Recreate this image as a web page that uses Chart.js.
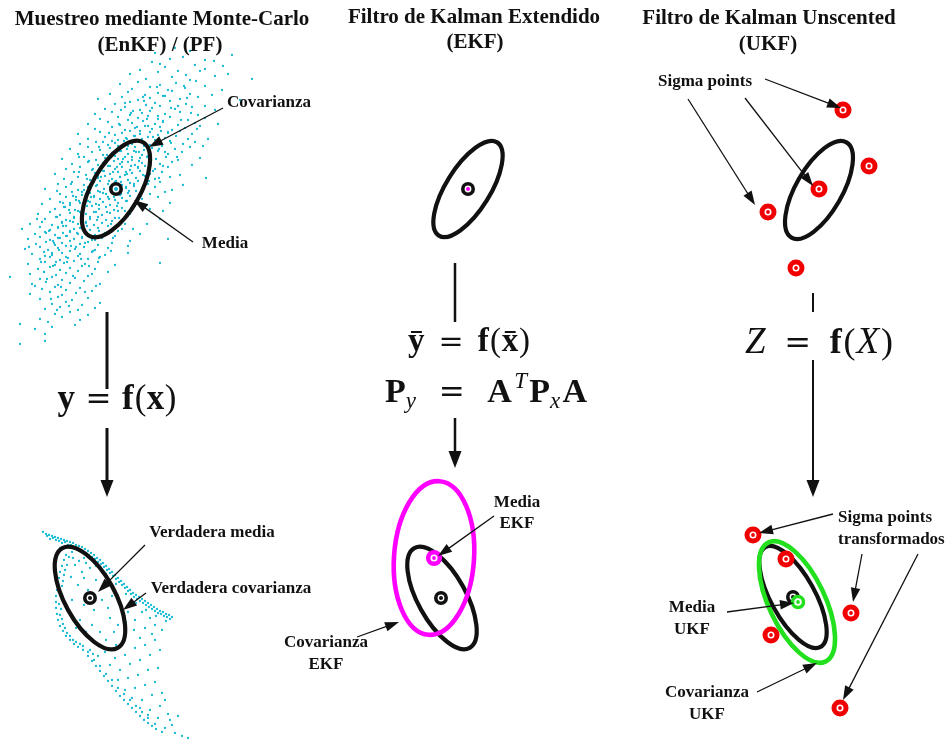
<!DOCTYPE html>
<html><head><meta charset="utf-8">
<script src="https://cdn.jsdelivr.net/npm/chart.js@4.4.0/dist/chart.umd.min.js"></script>
<style>html,body{margin:0;padding:0;background:#fff;overflow:hidden}canvas{display:block}</style>
</head><body>
<canvas id="c" width="951" height="740"></canvas>
<script>
// ---------------- DATA ----------------
// Monte-Carlo samples before the transform (top-left cloud), [x, y]
const topCloud = [
[155,53],[190,51],[232,55],[175,48],
[170,59],[183,57],[214,61],[160,64],
[152,62],[195,65],[223,66],[205,60],
[140,70],[165,67],[178,71],[205,69],
[130,74],[158,72],[186,75],[200,71],[228,74],
[146,79],[172,77],[190,80],[215,76],[252,79],
[120,84],[138,82],[160,85],[176,83],[196,81],[184,86],
[132,89],[150,87],[168,90],[185,88],[205,86],[222,90],
[110,94],[128,92],[145,95],[158,93],[172,91],[190,94],[212,95],[165,96],
[98,99],[122,97],[138,100],[150,98],[163,96],[180,99],[198,97],[240,100],[144,101],
[115,104],[130,102],[146,105],[155,103],[170,101],[186,104],[205,106],[178,106],
[105,109],[125,107],[140,110],[152,108],[160,106],[175,109],[192,107],[215,110],[133,111],
[95,114],[112,112],[130,115],[142,113],[150,111],[165,114],[180,112],[198,115],[158,116],
[100,119],[118,117],[128,120],[138,118],[148,116],[158,119],[170,117],[188,120],[205,118],[163,121],
[88,124],[108,122],[120,125],[132,123],[143,121],[155,124],[163,122],[178,125],[195,123],[218,124],[148,126],
[95,129],[112,127],[125,130],[135,128],[145,126],[152,129],[160,127],[172,130],[185,128],[200,126],[140,131],[168,132],
[78,134],[100,132],[115,135],[122,133],[130,131],[140,134],[150,132],[158,135],[168,133],[180,131],[192,134],[135,136],
[88,139],[105,137],[118,140],[126,138],[134,136],[142,139],[148,137],[155,140],[165,138],[176,136],[188,139],[208,139],[112,141],
[80,144],[96,142],[108,145],[115,143],[124,141],[132,144],[140,142],[150,145],[160,143],[170,141],[183,144],[195,142],[128,146],
[70,149],[88,147],[100,150],[110,148],[118,146],[127,149],[135,147],[144,150],[152,148],[162,146],[175,149],[190,147],[121,151],[139,152],
[78,154],[92,152],[103,155],[112,153],[120,151],[128,154],[136,152],[142,155],[150,153],[158,151],[168,154],[182,152],[115,156],[132,157],
[62,159],[84,157],[96,160],[105,158],[112,156],[118,159],[125,157],[132,160],[140,158],[148,156],[156,159],[166,157],[178,160],[200,158],[122,162],
[72,164],[88,162],[98,165],[106,163],[114,161],[120,164],[128,162],[135,165],[142,163],[150,161],[160,164],[172,162],[192,165],[110,166],[138,167],
[66,169],[80,167],[92,170],[100,168],[108,166],[115,169],[122,167],[130,170],[138,168],[145,166],[155,169],[168,167],[104,171],[126,172],
[55,174],[74,172],[86,175],[95,173],[103,171],[110,174],[118,172],[125,175],[132,173],[140,171],[150,174],[162,172],[180,175],[98,176],[120,177],
[64,179],[78,177],[90,180],[98,178],[105,176],[112,179],[120,177],[128,180],[136,178],[145,176],[155,179],[170,177],[206,178],[94,182],[116,181],
[58,184],[72,182],[84,185],[92,183],[100,181],[108,184],[115,182],[122,185],[130,183],[138,181],[148,184],[160,182],[88,187],[126,187],
[45,189],[66,187],[78,190],[88,188],[96,186],[104,189],[110,187],[118,190],[126,188],[134,186],[142,189],[155,187],[172,190],[82,192],[100,192],
[60,194],[72,192],[82,195],[90,193],[98,191],[106,194],[112,192],[120,195],[128,193],[136,191],[150,194],[165,192],[76,197],[94,197],[114,197],
[50,199],[66,197],[76,200],[86,198],[94,196],[100,199],[108,197],[115,200],[122,198],[130,196],[142,199],[158,197],[90,202],[70,203],
[42,204],[60,202],[70,205],[80,203],[88,201],[96,204],[103,202],[110,205],[118,203],[126,201],[138,204],[170,203],[84,207],[64,207],
[55,209],[65,207],[75,210],[84,208],[92,206],[99,209],[106,207],[114,210],[122,208],[135,206],[150,209],[80,212],[96,212],
[38,214],[50,212],[60,215],[70,213],[78,211],[86,214],[94,212],[102,215],[110,213],[118,211],[130,214],[74,217],[90,217],
[45,219],[56,217],[66,220],[74,218],[82,216],[90,219],[98,217],[106,220],[115,218],[128,216],[160,219],[62,222],[86,223],
[30,224],[42,222],[52,225],[62,223],[70,221],[78,224],[86,222],[94,225],[102,223],[112,221],[125,224],[58,227],[80,228],
[22,229],[40,227],[50,230],[58,228],[66,226],[74,229],[82,227],[90,230],[98,228],[108,226],[122,229],[70,232],[46,233],
[35,234],[45,232],[55,235],[63,233],[70,231],[78,234],[86,232],[95,235],[105,233],[118,231],[140,234],[60,238],[82,238],
[28,239],[40,237],[50,240],[58,238],[66,236],[74,239],[82,237],[92,240],[102,238],[115,236],[168,239],[54,243],
[36,244],[46,242],[55,245],[62,243],[70,241],[80,244],[88,242],[98,245],[112,243],[130,241],[76,247],
[25,249],[40,247],[48,250],[58,248],[66,246],[75,249],[84,247],[95,250],[108,248],[52,253],
[32,254],[44,252],[52,255],[62,253],[70,251],[80,254],[92,252],[105,255],[128,253],[66,257],
[40,259],[50,257],[60,260],[68,258],[78,256],[88,259],[100,257],[56,262],
[28,264],[45,262],[55,265],[64,263],[74,261],[85,264],[98,262],[115,265],[160,263],
[38,269],[50,267],[60,270],[70,268],[82,266],[95,269],[44,272],
[30,274],[44,272],[56,275],[66,273],[78,271],[92,274],[108,272],
[10,277],[40,279],[52,277],[62,280],[75,278],[88,276],
[32,284],[46,282],[58,285],[70,283],[84,281],[100,284],
[42,289],[55,287],[66,290],[80,288],[96,286],
[30,294],[50,292],[62,295],[76,293],[92,291],
[40,299],[58,297],[72,300],[88,298],
[52,304],[66,302],[82,305],[100,303],
[45,309],[60,307],[78,310],[95,308],
[55,314],[70,312],[88,315],
[40,319],[62,317],[80,320],
[20,324],[48,322],[75,325],
[35,329],[52,327],[45,334],[20,344],[45,341],
[131,113],[147,119],[119,124],[161,131],[137,127],[109,133],[153,137],[127,139],[171,143],[144,146],[99,147],[117,149],[134,151],[159,149],
[107,155],[147,157],[123,159],[89,161],[139,161],[163,166],[103,163],[117,167],[131,166],[153,171],[93,169],[79,172],[113,172],[143,175],
[127,174],[101,177],[87,179],[121,182],[134,184],[109,181],[71,184],[149,181],[97,185],[113,186],[84,190],[129,191],[103,193],[121,194],
[73,196],[141,196],[91,197],[109,199],[79,201],[127,201],[63,203],[99,205],[117,206],[87,206],[69,210],[107,212],[83,214],[125,211],
[57,217],[97,220],[73,222],[111,224],[63,226],[87,226],[49,231],[77,233],[99,231],[67,236],[113,238],[53,241],[85,243],[71,246],
[93,251],[59,250],[45,256],[81,259],[67,262],[53,266],[89,266],[73,276],[47,279],[61,287],[85,292],[51,299],[69,306],[57,310],
[181,120],[197,129],[171,108],[143,97],[157,87],[187,98],[121,110],[165,152],[177,157],[159,178],[137,203],[119,218],[95,240],[41,262],
[35,286],[29,247],[37,219],[57,191],[79,157],[103,142],[125,103],[191,113],[203,146],[99,258],[111,251],[128,246],[147,224],[163,211],
[183,185],[147,205],[133,229]
];

// Transformed Monte-Carlo samples (bottom-left cloud), [x, y]
const bottomCloud = [
[43,532],[46,534],[49,535],[52,536],[55,537],[58,538],[61,539],[64,540],[67,541],[70,542],[73,543],[76,545],[79,546],[82,547],[85,549],[88,551],[91,553],[94,555],[97,558],[100,560],[103,563],[106,566],[109,569],[112,572],[115,575],[118,578],[121,581],[124,584],[127,587],[130,590],[133,593],[136,595],[139,597],[142,599],[145,601],[148,603],[151,605],[154,607],[157,609],[160,611],[163,612],[166,614],[169,615],[172,617],
[50,539],[56,540],[62,543],[68,545],[74,547],[80,550],[86,553],[92,557],[98,562],[104,567],[110,573],[116,579],[122,585],[128,591],[134,597],[140,601],[146,605],[152,609],[158,613],[164,616],[170,619],
[47,536],[53,538],[59,541],[65,542],[71,545],[77,548],[83,551],[89,555],[95,559],[101,564],[107,570],[113,576],[119,582],[125,588],[131,594],[137,599],[143,603],[149,607],[155,611],[161,614],[167,617],
[60,548],[72,552],[84,558],[96,566],[106,574],[116,584],[126,594],[136,603],[146,610],[156,616],[166,621],
[66,555],[64,560],[62,566],[60,572],[59,578],[58,584],[57,590],[56,596],[56,602],[56,608],[57,614],[58,620],[60,626],[63,631],[66,636],[70,640],[74,644],[78,647],[83,650],[88,652],[93,654],[98,656],
[69,557],[67,565],[64,575],[62,586],[61,597],[61,609],[62,619],[65,628],[70,636],[76,642],[83,646],[90,650],
[65,570],[63,581],[59,592],[59,604],[60,615],[63,624],[67,633],[73,640],[80,644],
[75,565],[82,572],[90,568],[78,585],[88,590],[96,580],[104,588],[72,600],[84,605],[94,610],[102,600],[112,596],[120,605],[80,620],[92,625],[100,632],[110,618],[118,625],[128,612],[135,620],[142,612],[150,618],[106,640],[116,645],[124,635],[134,630],[145,628],[155,625],[162,630],[70,612],[86,632],[98,645],
[73,558],[79,561],[86,563],[71,577],[84,578],[92,596],[108,608],[76,628],[114,632],[126,622],[140,638],[152,634],
[88,656],[92,661],[96,666],[100,671],[104,676],[108,681],[112,686],[116,691],[120,696],[124,700],[128,704],[132,708],[136,712],[140,716],[144,720],[148,723],[152,726],[156,729],
[94,660],[100,666],[106,674],[112,680],[118,688],[124,694],[130,700],[136,706],[142,712],[148,718],
[105,652],[115,658],[125,655],[135,648],[145,645],[155,640],[110,665],[120,670],[130,664],[140,660],[150,655],[160,650],[118,680],[128,678],[138,675],[148,670],[158,668],[125,690],[135,688],[145,685],[155,682],[132,698],[142,700],[152,695],[162,693],[140,708],[150,710],[160,706],[165,700],[148,715],[158,718],[168,714],[155,724],[165,728],[172,725],[162,732],[175,733],[182,736],[188,738],[170,720],[178,716]
];

// Sigma points before / after transform
const sigmaX = [843, 869, 819, 768, 796];
const sigmaY = [110, 166, 189, 212, 268];
const sigmaTX = [753, 786, 851, 771, 840];
const sigmaTY = [535, 559, 613, 635, 708];

// Mean markers (black rings)
const meanX = [116, 468, 90, 441, 793];
const meanY = [189, 189, 598, 598, 597];
const ekfMeanX = [434], ekfMeanY = [558];
const ukfMeanX = [798], ukfMeanY = [602];

// Covariance ellipses: centre, semi-axes, tilt (deg)
const ellName = ['mcIn','ekfIn','ukfIn','mcTrue','ekfTrue','ukfTrue','ekfOut','ukfOut'];
const ellCX = [116, 468, 819, 90, 442, 793, 434, 797];
const ellCY = [189, 189, 190, 598, 598, 597, 558, 602];
const ellA  = [54, 55, 55, 57, 57, 57, 77, 66];
const ellB  = [24, 22, 23, 25, 24, 22, 40, 28];
const ellTilt = [60, 58, 60, -61, -61, -61, 86, -64.5];

// Text
const titles = ['Muestreo mediante Monte-Carlo','(EnKF) / (PF)','Filtro de Kalman Extendido','(EKF)','Filtro de Kalman Unscented','(UKF)'];
const titleX = [162, 160, 474, 475, 769, 768];
const titleY = [25, 51, 23, 48, 24, 50];

const labels = ['Covarianza','Media','Verdadera media','Verdadera covarianza','Media','EKF','Covarianza','EKF','Sigma points','Sigma points','transformados','Media','UKF','Covarianza','UKF'];
const labelX = [269, 225, 212, 231, 517, 517, 326, 326, 705, 838, 838, 692, 692, 707, 707];
const labelY = [103, 244, 533, 589, 503, 524, 643, 665, 82, 518, 540, 608, 630, 693, 715];
const labelAlign = ['c','c','c','c','c','c','c','c','c','l','l','c','c','c','c'];

// Annotation arrows: from label -> to target
const arrowX1 = [223, 193, 145, 146, 494, 357, 765, 745, 688, 833, 862, 918, 727, 757];
const arrowY1 = [108, 242, 545, 593, 516, 637, 79, 98, 99, 514, 554, 554, 612, 692];
const arrowX2 = [149, 134, 98, 123, 438, 399, 841, 813, 755, 759, 853, 843, 794, 817];
const arrowY2 = [147, 200, 592, 610, 556, 622, 108, 186, 205, 533, 602, 700, 603, 663];

// Transform connectors (vertical strokes + big arrow)
const connX  = [107, 455, 813];
const connTopY1 = [312, 263, 293], connTopY2 = [389, 322, 312];
const connBotY1 = [428, 418, 360], connTipY = [497, 468, 497];
const connW = [3, 2.5, 2];

// ---------------- CHART ----------------
const CYAN = '#15bad3', RED = '#f00000', MAG = '#ff00ff', GREEN = '#22e01e', INK = '#111';
const toPts = (xs, ys) => xs.map((x, i) => ({x, y: ys[i]}));
const ellColor = {mcIn: INK, ekfIn: INK, ukfIn: INK, mcTrue: INK, ekfTrue: INK, ukfTrue: INK, ekfOut: MAG, ukfOut: GREEN};
const ellWidth = {mcIn: 4.2, ekfIn: 4.2, ukfIn: 4.2, mcTrue: 4.2, ekfTrue: 4.2, ukfTrue: 4.2, ekfOut: 4.6, ukfOut: 4.6};

function drawEllipses(chart) {
  const ctx = chart.ctx, sx = chart.scales.x, sy = chart.scales.y;
  const kx = sx.getPixelForValue(1) - sx.getPixelForValue(0);
  const ky = sy.getPixelForValue(1) - sy.getPixelForValue(0);
  ctx.save();
  ellName.forEach((n, i) => {
    ctx.beginPath();
    ctx.ellipse(sx.getPixelForValue(ellCX[i]), sy.getPixelForValue(ellCY[i]), ellA[i]*kx, ellB[i]*ky, -ellTilt[i]*Math.PI/180, 0, Math.PI*2);
    ctx.lineWidth = ellWidth[n];
    ctx.strokeStyle = ellColor[n];
    ctx.stroke();
  });
  ctx.restore();
}

function arrowHead(ctx, x1, y1, x2, y2, len, half) {
  const a = Math.atan2(y2 - y1, x2 - x1);
  const c = Math.cos(a), s = Math.sin(a);
  ctx.beginPath();
  ctx.moveTo(x2, y2);
  ctx.lineTo(x2 - c*len - s*half, y2 - s*len + c*half);
  ctx.lineTo(x2 - c*len + s*half, y2 - s*len - c*half);
  ctx.closePath();
  ctx.fill();
}

const SERIF = '"Liberation Serif", "Times New Roman", serif';
function drawEq(ctx, pieces, cx, by, targetW) {
  let nat = 0, wsum = 0;
  pieces.forEach(p => { ctx.font = p.f; p.w = ctx.measureText(p.t).width; nat += p.w; wsum += (p.g || 0); });
  const extra = Math.max(0, targetW - nat);
  let x = cx - Math.max(nat, targetW) / 2;
  pieces.forEach(p => {
    if (wsum) x += extra * (p.g || 0) / wsum;
    ctx.font = p.f;
    ctx.fillText(p.t, x, by + (p.dy || 0));
    if (p.bar) {
      ctx.fillRect(x + p.w*0.18, by - p.bar, p.w*0.66, 2);
    }
    x += p.w;
  });
}

const artPlugin = {
  id: 'art',
  afterDatasetDraw(chart, args) {
    if (args.index === 8) drawEllipses(chart);
  },
  afterDatasetsDraw(chart) {
    const ctx = chart.ctx, sx = chart.scales.x, sy = chart.scales.y;
    const X = v => sx.getPixelForValue(v), Y = v => sy.getPixelForValue(v);
    ctx.save();
    ctx.fillStyle = INK; ctx.strokeStyle = INK; ctx.lineCap = 'butt';
    // connectors
    connX.forEach((cx, i) => {
      ctx.lineWidth = connW[i];
      ctx.beginPath();
      ctx.moveTo(X(cx), Y(connTopY1[i])); ctx.lineTo(X(cx), Y(connTopY2[i]));
      ctx.moveTo(X(cx), Y(connBotY1[i])); ctx.lineTo(X(cx), Y(connTipY[i]) - 12);
      ctx.stroke();
      arrowHead(ctx, X(cx), Y(connBotY1[i]), X(cx), Y(connTipY[i]), 17, 6.5);
    });
    // annotation arrows
    ctx.lineWidth = 1.3;
    arrowX1.forEach((x1, i) => {
      const x2 = X(arrowX2[i]), y2 = Y(arrowY2[i]), xa = X(x1), ya = Y(arrowY1[i]);
      const a = Math.atan2(y2 - ya, x2 - xa);
      ctx.beginPath();
      ctx.moveTo(xa, ya); ctx.lineTo(x2 - Math.cos(a)*8, y2 - Math.sin(a)*8);
      ctx.stroke();
      arrowHead(ctx, xa, ya, x2, y2, 14, 4.8);
    });
    // titles
    ctx.textAlign = 'center'; ctx.textBaseline = 'alphabetic';
    ctx.font = 'bold 21px ' + SERIF;
    titles.forEach((t, i) => ctx.fillText(t, X(titleX[i]), Y(titleY[i])));
    // labels
    ctx.font = 'bold 17px ' + SERIF; ctx.textBaseline = 'middle';
    labels.forEach((t, i) => {
      ctx.textAlign = labelAlign[i] === 'l' ? 'left' : 'center';
      ctx.fillText(t, X(labelX[i]), Y(labelY[i]));
    });
    // equations
    ctx.textAlign = 'left'; ctx.textBaseline = 'alphabetic';
    const B = s => 'bold ' + s + 'px ' + SERIF, R = s => s + 'px ' + SERIF, I = s => 'italic ' + s + 'px ' + SERIF;
    const EQ = s => s + 'px "DejaVu Serif"';
    drawEq(ctx, [
      {t:'y', f:B(35)}, {t:'=', f:EQ(31), g:1}, {t:'f', f:B(35), g:1}, {t:'(', f:R(35), g:0.1}, {t:'x', f:B(35), g:0.05}, {t:')', f:R(35), g:0.05}
    ], X(117), Y(409), 119);
    drawEq(ctx, [
      {t:'y', f:B(33), bar:20}, {t:'=', f:EQ(30), g:1}, {t:'f', f:B(33), g:1}, {t:'(', f:R(33), g:0.1}, {t:'x', f:B(33), bar:20, g:0.05}, {t:')', f:R(33), g:0.05}
    ], X(469), Y(351), 122);
    drawEq(ctx, [
      {t:'P', f:B(34)}, {t:'y', f:I(23), dy:6}, {t:'=', f:EQ(31), g:1}, {t:'A', f:B(34), g:1}, {t:'T', f:I(23), dy:-14, g:0.1},
      {t:'P', f:B(34), g:0.1}, {t:'x', f:I(23), dy:6}, {t:'A', f:B(34), g:0.1}
    ], X(486), Y(402), 202);
    drawEq(ctx, [
      {t:'Z', f:I(37)}, {t:'=', f:EQ(32), g:1}, {t:'f', f:B(36), g:1}, {t:'(', f:R(36), g:0.1}, {t:'X', f:I(37), g:0.05}, {t:')', f:R(36), g:0.1}
    ], X(819), Y(353), 148);
    ctx.restore();
  }
};

const dot = (pts, color, r) => ({data: pts, pointRadius: r, pointHoverRadius: r, backgroundColor: color, borderWidth: 0, pointStyle: 'circle'});
const ring = (pts, color, r, w) => ({data: pts, pointRadius: r, pointHoverRadius: r, backgroundColor: '#fff', borderColor: color, borderWidth: w, pointStyle: 'circle'});

new Chart(document.getElementById('c'), {
  type: 'scatter',
  data: {
    datasets: [
      dot(toPts(sigmaX.concat(sigmaTX), sigmaY.concat(sigmaTY)), RED, 1.9),          // 0
      ring(toPts(sigmaX.concat(sigmaTX), sigmaY.concat(sigmaTY)), RED, 6, 5),        // 1
      dot(toPts(ukfMeanX, ukfMeanY), GREEN, 1.9),                                    // 2
      ring(toPts(ukfMeanX, ukfMeanY), GREEN, 5.5, 3.5),                              // 3
      dot(toPts(ekfMeanX, ekfMeanY), MAG, 1.9),                                      // 4
      ring(toPts(ekfMeanX, ekfMeanY), MAG, 5.8, 4.5),                                // 5
      dot(toPts(meanX, meanY), [CYAN, MAG, INK, INK, INK], 2),                       // 6
      ring(toPts(meanX, meanY), INK, 5.2, 3.6),                                      // 7
      dot(bottomCloud.map(p => ({x: p[0], y: p[1]})), CYAN, 1.15),                    // 8
      dot(topCloud.map(p => ({x: p[0], y: p[1]})), CYAN, 1.15)                        // 9
    ]
  },
  options: {
    responsive: false, animation: false, devicePixelRatio: 1, events: [],
    layout: {padding: 0, autoPadding: false},
    plugins: {legend: {display: false}, tooltip: {enabled: false}},
    scales: {
      x: {type: 'linear', min: 0, max: 951, display: false},
      y: {type: 'linear', min: 0, max: 740, reverse: true, display: false}
    }
  },
  plugins: [artPlugin]
});
</script>
</body></html>
